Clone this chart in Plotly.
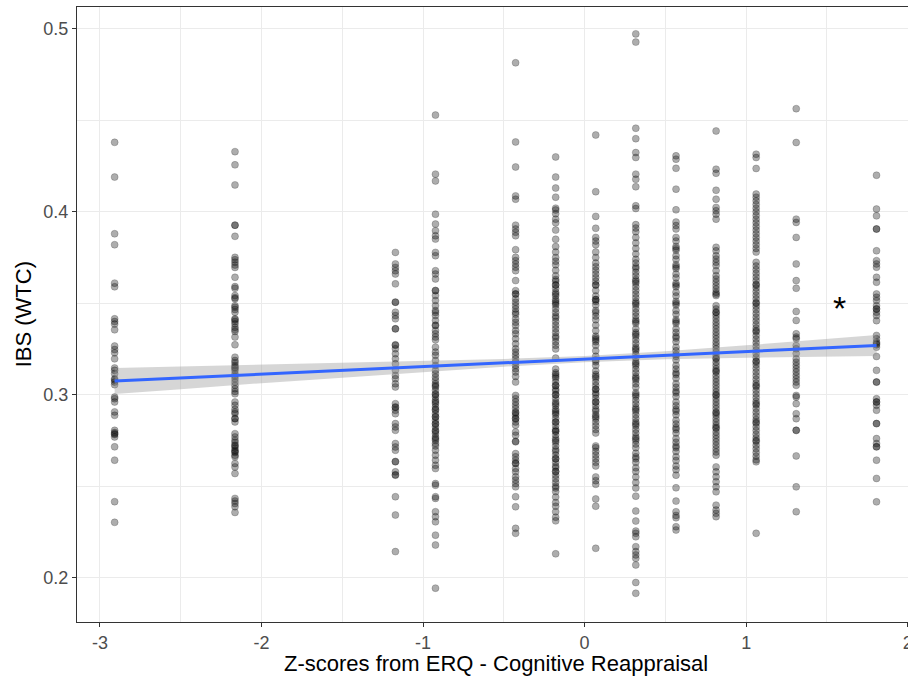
import plotly.graph_objects as go

# ERQ cognitive reappraisal z-score levels (x positions of the point columns)
erq_levels = [-2.909, -2.164, -1.171, -0.923, -0.427, -0.179, 0.069,
              0.317, 0.566, 0.814, 1.062, 1.310, 1.807]

# IBS (WTC) values read per column
ibs_lvl01 = [0.438, 0.419, 0.388, 0.382, 0.361, 0.359, 0.3415, 0.340, 0.3386, 0.3355,
             0.3266, 0.3247, 0.3229, 0.3196, 0.3146, 0.3133, 0.3115, 0.3087, 0.3080, 0.3069,
             0.3055, 0.2987, 0.2978, 0.2960, 0.2906, 0.2887, 0.2805, 0.2793, 0.2787, 0.2782,
             0.2769, 0.2715, 0.2642, 0.2415, 0.2302]
ibs_lvl02 = [0.4329, 0.4257, 0.4147, 0.3927, 0.3927, 0.3866, 0.3751, 0.3738, 0.3724, 0.3709,
             0.3696, 0.3642, 0.3591, 0.3582, 0.3542, 0.3524, 0.3487, 0.3478, 0.3466, 0.3451,
             0.3415, 0.3400, 0.3387, 0.3369, 0.3356, 0.3346, 0.3315, 0.3273, 0.3205, 0.3187,
             0.3175, 0.3160, 0.3145, 0.3133, 0.3115, 0.3102, 0.3087, 0.3069, 0.3051, 0.3033,
             0.3018, 0.3005, 0.2960, 0.2942, 0.2920, 0.2905, 0.2896, 0.2869, 0.2851, 0.2787,
             0.2769, 0.2751, 0.2738, 0.2724, 0.2709, 0.2696, 0.2684, 0.2669, 0.2660, 0.2624,
             0.2605, 0.2569, 0.2433, 0.2418, 0.2405, 0.2387, 0.2356,
             0.3530, 0.3410, 0.3150, 0.2870, 0.2720, 0.2690]
ibs_lvl03 = [0.3778, 0.3715, 0.3696, 0.3678, 0.3660, 0.3606, 0.3506, 0.3451, 0.3433, 0.3415,
             0.3360, 0.3273, 0.3251, 0.3224, 0.3196, 0.3169, 0.3133, 0.3105, 0.3087, 0.3060,
             0.3042, 0.2951, 0.2933, 0.2915, 0.2896, 0.2842, 0.2824, 0.2805, 0.2733, 0.2714,
             0.2696, 0.2633, 0.2578, 0.2560, 0.2442, 0.2342, 0.2142,
             0.3506, 0.3360, 0.3270, 0.2930, 0.2635, 0.2562]
ibs_lvl04 = [0.4529, 0.4206, 0.4169, 0.3987, 0.3933, 0.3897, 0.3869, 0.3851, 0.3778, 0.3760,
             0.3678, 0.3660, 0.3633, 0.3569, 0.3542, 0.3515, 0.3487, 0.3460, 0.3433, 0.3406,
             0.3378, 0.3351, 0.3333, 0.3315, 0.3260, 0.3233, 0.3215, 0.3187, 0.3160, 0.3133,
             0.3115, 0.3096, 0.3078, 0.3060, 0.3042, 0.3024, 0.3005, 0.2987, 0.2969, 0.2951,
             0.2933, 0.2915, 0.2896, 0.2878, 0.2860, 0.2842, 0.2824, 0.2805, 0.2787, 0.2769,
             0.2751, 0.2733, 0.2696, 0.2669, 0.2642, 0.2614, 0.2596, 0.2514, 0.2505, 0.2442,
             0.2433, 0.2360, 0.2333, 0.2305, 0.2232, 0.2178, 0.1942,
             0.3570, 0.3450, 0.3380, 0.3300, 0.3050, 0.3000, 0.2960, 0.2920, 0.2880, 0.2840,
             0.2800, 0.2760, 0.2720]
ibs_lvl05 = [0.4815, 0.4382, 0.4245, 0.4087, 0.4069, 0.3927, 0.3906, 0.3888, 0.3869, 0.3793,
             0.3751, 0.3733, 0.3715, 0.3697, 0.3678, 0.3624, 0.3569, 0.3551, 0.3524, 0.3506,
             0.3487, 0.3469, 0.3451, 0.3415, 0.3396, 0.3378, 0.3351, 0.3333, 0.3306, 0.3278,
             0.3251, 0.3233, 0.3215, 0.3196, 0.3178, 0.3160, 0.3142, 0.3124, 0.3069, 0.2996,
             0.2978, 0.2960, 0.2942, 0.2924, 0.2905, 0.2887, 0.2869, 0.2851, 0.2833, 0.2796,
             0.2778, 0.2742, 0.2678, 0.2660, 0.2642, 0.2624, 0.2596, 0.2578, 0.2551, 0.2533,
             0.2514, 0.2496, 0.2442, 0.2387, 0.2269, 0.2242,
             0.3550, 0.3440, 0.3100, 0.2900, 0.2870, 0.2745, 0.2625]
ibs_lvl06 = [0.430, 0.419, 0.413, 0.408, 0.402, 0.401, 0.399, 0.396, 0.394, 0.390,
             0.385, 0.381, 0.378, 0.375, 0.373, 0.371, 0.368, 0.365, 0.363, 0.362,
             0.360, 0.358, 0.356, 0.354, 0.352, 0.351, 0.349, 0.347, 0.345, 0.343,
             0.342, 0.340, 0.338, 0.336, 0.334, 0.332, 0.331, 0.329, 0.327, 0.325,
             0.320, 0.314, 0.312, 0.311, 0.309, 0.307, 0.305, 0.303, 0.302, 0.300,
             0.298, 0.296, 0.294, 0.292, 0.291, 0.289, 0.287, 0.285, 0.283, 0.281,
             0.280, 0.278, 0.276, 0.274, 0.272, 0.270, 0.269, 0.267, 0.265, 0.263,
             0.261, 0.260, 0.258, 0.256, 0.254, 0.252, 0.250, 0.249, 0.247, 0.244,
             0.241, 0.239, 0.236, 0.233, 0.231, 0.213,
             0.360, 0.355, 0.350, 0.310, 0.305, 0.300, 0.295, 0.290, 0.285, 0.280,
             0.275, 0.265, 0.258]
ibs_lvl07 = [0.442, 0.411, 0.3975, 0.391, 0.386, 0.384, 0.382, 0.378, 0.375, 0.372,
             0.370, 0.368, 0.366, 0.364, 0.362, 0.360, 0.357, 0.354, 0.352, 0.351,
             0.349, 0.346, 0.343, 0.341, 0.338, 0.335, 0.332, 0.331, 0.329, 0.327,
             0.324, 0.321, 0.319, 0.316, 0.313, 0.311, 0.309, 0.307, 0.305, 0.303,
             0.301, 0.300, 0.298, 0.296, 0.294, 0.292, 0.291, 0.289, 0.287, 0.285,
             0.283, 0.281, 0.279, 0.272, 0.271, 0.269, 0.267, 0.265, 0.263, 0.261,
             0.255, 0.253, 0.251, 0.243, 0.239, 0.216,
             0.360, 0.352, 0.345, 0.330, 0.318, 0.310, 0.303, 0.296, 0.288]
ibs_lvl08 = [0.4973, 0.4928, 0.4457, 0.4400, 0.4324, 0.4297, 0.4206, 0.4178, 0.4137, 0.4033,
             0.4018, 0.3930, 0.3911, 0.3891,
             0.386, 0.383, 0.380, 0.377, 0.374, 0.372, 0.369, 0.367, 0.365, 0.363,
             0.361, 0.359, 0.357, 0.355, 0.353, 0.351, 0.349, 0.347, 0.345, 0.343,
             0.341, 0.339, 0.336, 0.334, 0.332, 0.330, 0.328, 0.326, 0.324, 0.322,
             0.320, 0.318, 0.316, 0.314, 0.312, 0.310, 0.308, 0.306, 0.304, 0.301,
             0.299, 0.297, 0.295, 0.293, 0.291, 0.289, 0.287, 0.285, 0.283, 0.281,
             0.279, 0.277, 0.275, 0.273, 0.271, 0.268, 0.266, 0.263, 0.260, 0.258,
             0.255, 0.252, 0.249, 0.2445,
             0.2364, 0.2309, 0.2254, 0.2242, 0.2223, 0.2169, 0.2142, 0.2124, 0.2105, 0.2069,
             0.1973, 0.1914,
             0.370, 0.362, 0.350, 0.340, 0.333, 0.325, 0.317, 0.309, 0.300, 0.292,
             0.284, 0.276, 0.265]
ibs_lvl09 = [0.4306, 0.4288, 0.4238, 0.4124, 0.4011, 0.3944, 0.3925, 0.3906,
             0.386, 0.384, 0.381, 0.379, 0.376, 0.374, 0.371, 0.369, 0.366, 0.364,
             0.361, 0.359, 0.356, 0.354, 0.351, 0.349, 0.346, 0.344, 0.341, 0.339,
             0.336, 0.334, 0.331, 0.329, 0.326, 0.324, 0.321, 0.319, 0.316, 0.314,
             0.311, 0.309, 0.306, 0.304, 0.301, 0.299, 0.296, 0.294, 0.291, 0.289,
             0.286, 0.284, 0.281, 0.279, 0.276, 0.274, 0.271, 0.269, 0.266, 0.264,
             0.261, 0.259, 0.256,
             0.2491, 0.2418, 0.2360, 0.2340, 0.2327, 0.2278, 0.2260,
             0.380, 0.370, 0.360, 0.350, 0.340, 0.332, 0.322, 0.312, 0.302, 0.292,
             0.282, 0.272]
ibs_lvl10 = [0.4442, 0.4233, 0.4211, 0.4118, 0.4069, 0.4024, 0.4006, 0.3987, 0.3960,
             0.3806, 0.3787, 0.3760, 0.3742, 0.3724, 0.3706, 0.3678, 0.3651, 0.3633, 0.3615,
             0.3596, 0.3578, 0.3560, 0.3542, 0.3487, 0.3469, 0.3451, 0.3433, 0.3415, 0.3396,
             0.3378, 0.3360, 0.3342, 0.3324, 0.3306, 0.3287, 0.3269, 0.3251, 0.3233, 0.3215,
             0.3196, 0.3178, 0.3160, 0.3142, 0.3124, 0.3105, 0.3087, 0.3069, 0.3051, 0.3033,
             0.3015, 0.2996, 0.2978, 0.2960, 0.2942, 0.2924, 0.2905, 0.2887, 0.2869, 0.2851,
             0.2833, 0.2815, 0.2796, 0.2778, 0.2760, 0.2742, 0.2724, 0.2705, 0.2687, 0.2669,
             0.2605, 0.2578, 0.2551, 0.2524, 0.2496, 0.2469, 0.2396, 0.2369, 0.2351, 0.2333,
             0.355, 0.345, 0.320, 0.313, 0.300, 0.290, 0.282]
ibs_lvl11 = [0.4315, 0.4297, 0.4237, 0.4097, 0.4080, 0.4060, 0.4040, 0.4020, 0.4000, 0.3980,
             0.3960, 0.3940, 0.3920, 0.3900, 0.3880, 0.3860, 0.3840, 0.3820, 0.3800, 0.3780,
             0.3724, 0.3704, 0.3684, 0.3664, 0.3644, 0.3624, 0.3604, 0.3584, 0.3564, 0.3544,
             0.3524, 0.3504, 0.3484, 0.3464, 0.3444, 0.3424, 0.3404, 0.3384, 0.3364, 0.3344,
             0.3324, 0.3304, 0.3284, 0.3264, 0.3244, 0.3224, 0.3204, 0.3184, 0.3164, 0.3144,
             0.3124, 0.3104, 0.3084, 0.3064, 0.3044, 0.3024, 0.3004, 0.2984, 0.2964, 0.2944,
             0.2924, 0.2904, 0.2884, 0.2864, 0.2844, 0.2824, 0.2804, 0.2784, 0.2764, 0.2744,
             0.2724, 0.2704, 0.2684, 0.2664, 0.2644, 0.2633, 0.2242,
             0.360, 0.350, 0.335, 0.318, 0.305, 0.295, 0.285, 0.275]
ibs_lvl12 = [0.4564, 0.4379, 0.3960, 0.3942, 0.3860, 0.3715, 0.3624, 0.3582, 0.3455, 0.3406,
             0.3333, 0.3315, 0.3306, 0.3269, 0.3251, 0.3225, 0.3196, 0.3178, 0.3160, 0.3142,
             0.3124, 0.3105, 0.3087, 0.3069, 0.3051, 0.2996, 0.2987, 0.2951, 0.2896, 0.2869,
             0.2805, 0.2805, 0.2665, 0.2496, 0.2360]
ibs_lvl13 = [0.4200, 0.4015, 0.3978, 0.3906, 0.3787, 0.3733, 0.3715, 0.3697, 0.3642, 0.3615,
             0.3551, 0.3533, 0.3515, 0.3487, 0.3469, 0.3451, 0.3433, 0.3405, 0.3324, 0.3306,
             0.3287, 0.3273, 0.3260, 0.3209, 0.3133, 0.3069, 0.2978, 0.2960, 0.2942, 0.2915,
             0.2842, 0.2760, 0.2733, 0.2715, 0.2642, 0.2542, 0.2414,
             0.3906, 0.3469, 0.3280, 0.3069, 0.2960, 0.2842, 0.2715]

ibs_by_level = [ibs_lvl01, ibs_lvl02, ibs_lvl03, ibs_lvl04, ibs_lvl05, ibs_lvl06, ibs_lvl07,
                ibs_lvl08, ibs_lvl09, ibs_lvl10, ibs_lvl11, ibs_lvl12, ibs_lvl13]

# linear fit with 95% confidence band
fit_x = [-2.909, -2.5, -2.0, -1.5, -1.0, -0.5, 0.0, 0.5, 1.0, 1.5, 1.807]
fit_y = [0.3075, 0.3092, 0.3113, 0.3133, 0.3154, 0.3174, 0.3195, 0.3216, 0.3236, 0.3257, 0.3269]
ci_lo = [0.3004, 0.3030, 0.3063, 0.3093, 0.3124, 0.3153, 0.3178, 0.3194, 0.3202, 0.3209, 0.3211]
ci_hi = [0.3146, 0.3154, 0.3163, 0.3173, 0.3184, 0.3195, 0.3212, 0.3238, 0.3270, 0.3305, 0.3327]

x_ticks = [-3, -2, -1, 0, 1, 2]
x_ticklabels = ["-3", "-2", "-1", "0", "1", "2"]
y_ticks = [0.2, 0.3, 0.4, 0.5]
y_ticklabels = ["0.2", "0.3", "0.4", "0.5"]

x_title = "Z-scores from ERQ - Cognitive Reappraisal"
y_title = "IBS (WTC)"

px_x, px_y = [], []
for xv, ys in zip(erq_levels, ibs_by_level):
    px_x += [xv] * len(ys)
    px_y += ys

fig = go.Figure()
fig.add_trace(go.Scatter(
    x=px_x, y=px_y, mode="markers",
    marker=dict(size=7, color="rgba(0,0,0,0.32)",
                line=dict(width=0.6, color="rgba(0,0,0,0.32)")),
    hoverinfo="skip"))
fig.add_trace(go.Scatter(
    x=fit_x + fit_x[::-1], y=ci_hi + ci_lo[::-1], mode="lines",
    fill="toself", fillcolor="rgba(153,153,153,0.4)", line=dict(width=0),
    hoverinfo="skip"))
fig.add_trace(go.Scatter(
    x=fit_x, y=fit_y, mode="lines", line=dict(color="#3366FF", width=3),
    hoverinfo="skip"))

fig.add_annotation(x=1.581, y=0.3474, text="*", showarrow=False,
                   font=dict(size=34, color="black", family="Liberation Sans, Arial"),
                   xanchor="center", yanchor="middle")
# axis titles
fig.add_annotation(xref="paper", yref="paper", x=0.504, y=-0.067, text=x_title,
                   showarrow=False, xanchor="center", yanchor="middle",
                   font=dict(size=22, color="black"))
fig.add_annotation(xref="paper", yref="paper", x=-0.064, y=0.5, text=y_title,
                   showarrow=False, xanchor="center", yanchor="middle", textangle=-90,
                   font=dict(size=22, color="black"))

grid = "#EBEBEB"
fig.update_layout(
    width=908, height=677,
    margin=dict(l=77, r=0, t=7, b=55, autoexpand=False),
    plot_bgcolor="white", paper_bgcolor="white",
    showlegend=False,
    font=dict(family="Liberation Sans, Arial, sans-serif"),
)
fig.update_xaxes(
    range=[-3.142, 2.002], tickmode="array", tickvals=x_ticks, ticktext=x_ticklabels,
    showgrid=True, gridcolor=grid, gridwidth=1.2, automargin=False,
    ticklabeloverflow="allow",
    minor=dict(tickmode="linear", tick0=0, dtick=0.5, showgrid=True, gridcolor=grid, gridwidth=0.7),
    showline=True, linecolor="#333333", linewidth=1, mirror=True,
    ticks="outside", ticklen=4, tickcolor="#333333", tickwidth=1,
    tickfont=dict(size=18, color="#4D4D4D"), zeroline=False,
)
fig.update_yaxes(
    range=[0.1757, 0.512], tickmode="array", tickvals=y_ticks, ticktext=y_ticklabels,
    showgrid=True, gridcolor=grid, gridwidth=1.2, automargin=False,
    minor=dict(tickmode="linear", tick0=0, dtick=0.05, showgrid=True, gridcolor=grid, gridwidth=0.7),
    showline=True, linecolor="#333333", linewidth=1, mirror=False,
    ticks="outside", ticklen=4, tickcolor="#333333", tickwidth=1,
    tickfont=dict(size=18, color="#4D4D4D"), zeroline=False,
)

fig.write_html("out.html", config={"displayModeBar": False},
               post_script="document.body.style.margin='0';document.body.style.overflow='hidden';")
